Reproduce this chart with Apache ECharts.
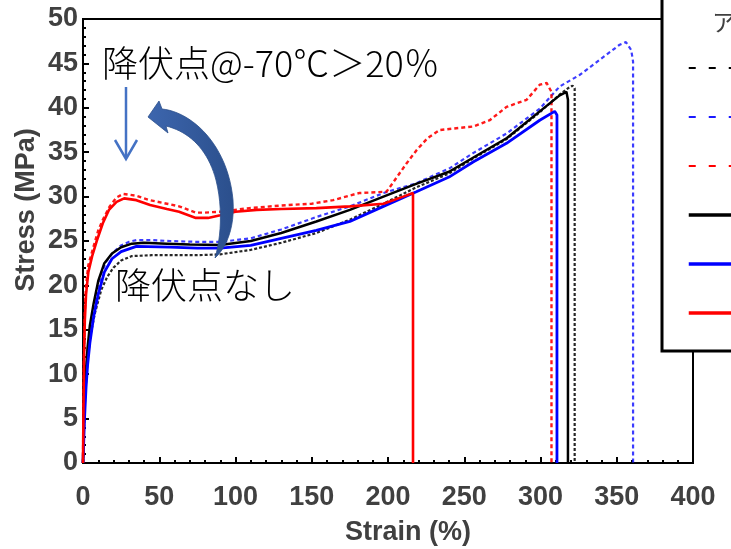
<!DOCTYPE html>
<html>
<head>
<meta charset="utf-8">
<script src="https://cdn.jsdelivr.net/npm/echarts@6/dist/echarts.min.js"></script>
<style>
html,body{margin:0;padding:0;background:#fff;}
#chart{width:731px;height:549px;}
</style>
</head>
<body>
<div id="chart"></div>
<script>
// ---- tick labels ----
const xTicks = [0, 50, 100, 150, 200, 250, 300, 350, 400];
const yTicks = [0, 5, 10, 15, 20, 25, 30, 35, 40, 45, 50];

// ---- series names (legend order) ----
const seriesNames = ['黒 破線', '青 破線', '赤 破線', '黒 実線', '青 実線', '赤 実線'];

// ---- series values: [strain %, stress MPa] ----
const blackDashed = [[0,0],[0.5,3],[1,6],[2,9],[3,11.5],[5,14.5],[8,17],[12,19.5],[16,21],[20,22],[25,22.8],[32,23.3],[45,23.4],[60,23.4],[75,23.4],[90,23.5],[110,24.0],[130,24.8],[153,25.9],[175,27.4],[197,29.2],[218,31.0],[240,32.6],[256,34.3],[278,36.5],[299.5,39.5],[312.6,41.5],[318,42.2],[321,42.5],[322.4,42.2],[322.4,0]];
const blueDashed = [[0,0],[0.5,3],[1,6],[2,10],[3,12.5],[4.5,15],[7,17.5],[9,19],[12,21.3],[15.3,22.7],[19.7,23.7],[25,24.5],[30,24.9],[35,25.1],[45,25.1],[57,25.0],[75,24.9],[90,24.9],[110,25.3],[130,26.3],[153,27.7],[175,28.9],[197,30.4],[218.6,31.5],[240.5,33.2],[255.8,34.9],[277.7,37.1],[299.5,39.9],[312.6,42.4],[325.7,43.7],[338.8,45.4],[351.9,47.1],[356,47.4],[359.5,46.5],[360.7,45.2],[360.7,0]];
const redDashed = [[0,0],[0.3,7],[0.7,13],[1.2,17],[2,20],[3.5,22.3],[6.6,24.2],[10,26.2],[13,27.4],[17.5,28.9],[22,29.9],[26.3,30.3],[35,30.1],[43.7,29.6],[55,29.2],[63,28.9],[74,28.2],[80,28.2],[90,28.3],[109,28.7],[130,29.0],[150,29.2],[164,29.6],[181,30.4],[199,30.55],[203,31.5],[212,33.7],[218.6,35.2],[226,36.6],[234,37.5],[256,37.9],[266.7,38.6],[277.7,40.1],[290.9,40.9],[299.5,42.6],[304,42.8],[307.2,41.8],[307.2,0]];
const blackSolid = [[0,0],[0.5,4],[1,7],[2,10.5],[3,13],[4.5,15.5],[7,18],[10,20.5],[14,22.5],[19,23.6],[25,24.3],[32,24.7],[40,24.8],[55,24.7],[70,24.6],[90,24.55],[110,25.0],[130,25.9],[153,27.2],[175,28.5],[197,30.0],[218,31.4],[240,32.8],[256,34.4],[278,36.6],[299.5,39.6],[312.6,41.4],[317,41.8],[318,40.9],[318,0]];
const blueSolid = [[0,0],[0.5,2.5],[1,5],[2,8.5],[3,11],[4.5,13.5],[7,16.5],[10,19],[14,21.5],[19,23],[25,23.8],[35,24.4],[57,24.3],[75,24.2],[90,24.2],[110,24.5],[130,25.3],[153,26.2],[175,27.2],[197,28.9],[218.6,30.55],[240,32.2],[255.8,33.9],[277.7,36.0],[299.5,38.6],[309.3,39.6],[310.8,39.2],[310.8,0]];
const redSolid = [[0,0],[0.3,6],[0.7,12],[1.2,16],[2,19],[3.5,21.5],[6,23.3],[9,25],[13,27],[17,28.5],[22,29.4],[27,29.8],[35,29.6],[44,29.05],[55,28.6],[63,28.3],[74,27.6],[82,27.6],[90,27.9],[100,28.3],[114,28.5],[130,28.6],[153,28.7],[175,28.9],[197,29.2],[210,30.0],[216.4,30.4],[216.4,0]];

// ---- annotation texts ----
const noteYield = '降伏点@-70℃＞20％';
const noteNoYield = '降伏点なし';
const legendTitle = 'ア';
const xName = 'Strain (%)';
const yName = 'Stress (MPa)';

const seriesData = [blackDashed, blueDashed, redDashed, blackSolid, blueSolid, redSolid];
const seriesColors = ['#000000', '#1a1aff', '#ff0000', '#000000', '#0000ff', '#ff0000'];
const seriesStyles = [
  {width: 2.2, type: [3, 2], opacity: 0.85},
  {width: 2.2, type: [4, 3], opacity: 0.85},
  {width: 2.4, type: [4, 3], opacity: 0.9},
  {width: 2.5, type: 'solid', opacity: 1},
  {width: 2.8, type: 'solid', opacity: 1},
  {width: 2.6, type: 'solid', opacity: 1}
];
const legendStyles = [
  {width: 2, type: [7, 13]},
  {width: 2, type: [7, 13]},
  {width: 2, type: [7, 13]},
  {width: 3.5, type: 'solid'},
  {width: 3.5, type: 'solid'},
  {width: 3.5, type: 'solid'}
];

// curved block arrow outline (decoration), sampled from cubic segments
function cubic(p0, p1, p2, p3, n) {
  const out = [];
  for (let k = 1; k <= n; k++) {
    const t = k / n, u = 1 - t;
    out.push([
      u*u*u*p0[0] + 3*u*u*t*p1[0] + 3*u*t*t*p2[0] + t*t*t*p3[0],
      u*u*u*p0[1] + 3*u*u*t*p1[1] + 3*u*t*t*p2[1] + t*t*t*p3[1]
    ]);
  }
  return out;
}
const arrowPts = [[148,117],[159,101],[162,109]]
  .concat(cubic([162,109],[192,112],[228,145],[233,200],24))
  .concat(cubic([233,200],[235,228],[226,248],[215,258],12))
  .concat(cubic([215,258],[221,238],[223,208],[216,180],12))
  .concat(cubic([216,180],[208,150],[190,132],[166,126],20))
  .concat([[168,133]]);

const chart = echarts.init(document.getElementById('chart'), null, {renderer: 'canvas'});
const axisFont = {fontFamily: '"Liberation Sans", Arial, sans-serif', fontWeight: 'bold', fontSize: 27, color: '#404040'};

const option = {
  animation: false,
  backgroundColor: '#ffffff',
  grid: {left: 83, right: 38, top: 19, bottom: 86, show: true, borderColor: '#000', borderWidth: 2, backgroundColor: 'transparent'},
  xAxis: {
    type: 'value',
    min: xTicks[0], max: xTicks[xTicks.length - 1], interval: xTicks[1] - xTicks[0],
    axisLine: {show: true, onZero: false, lineStyle: {color: '#000', width: 2}},
    axisTick: {show: true, inside: true, length: 6, lineStyle: {color: '#000', width: 2}},
    minorTick: {show: true, splitNumber: 5, length: 3, lineStyle: {color: '#000', width: 2}},
    splitLine: {show: false},
    axisLabel: Object.assign({margin: 21}, axisFont)
  },
  yAxis: {
    type: 'value',
    min: yTicks[0], max: yTicks[yTicks.length - 1], interval: yTicks[1] - yTicks[0],
    axisLine: {show: true, onZero: false, lineStyle: {color: '#000', width: 2}},
    axisTick: {show: true, inside: true, length: 6, lineStyle: {color: '#000', width: 2}},
    minorTick: {show: true, splitNumber: 5, length: 3, lineStyle: {color: '#000', width: 2}},
    splitLine: {show: false},
    axisLabel: Object.assign({margin: 5, padding: [7, 0, 0, 0]}, axisFont)
  },
  legend: {
    orient: 'vertical',
    left: 682, top: 56,
    itemWidth: 70, itemHeight: 14, itemGap: 36.4,
    z: 6,
    formatter: function () { return ''; },
    textStyle: {fontSize: 12},
    selectedMode: false,
    itemStyle: {opacity: 0},
    data: seriesNames.map((n, i) => ({name: n, itemStyle: {opacity: 0}, lineStyle: Object.assign({color: seriesColors[i], opacity: 1}, legendStyles[i])}))
  },
  series: seriesNames.map((n, i) => ({
    name: n,
    type: 'line',
    data: seriesData[i],
    symbol: 'none',
    smooth: false,
    z: i < 3 ? 2 : 3,
    lineStyle: Object.assign({color: seriesColors[i]}, seriesStyles[i]),
    itemStyle: {color: seriesColors[i]}
  })),
  graphic: [
    {type: 'rect', z: 5, shape: {x: 662, y: -10, width: 100, height: 361}, style: {fill: '#fff', stroke: '#000', lineWidth: 3}},
    {type: 'text', z: 6, x: 712, y: 22, style: {text: legendTitle, verticalAlign: 'middle', fontFamily: '"Noto Sans CJK JP", sans-serif', fontSize: 24, fill: '#404040'}},
    {type: 'text', z: 6, x: 408, y: 533, style: {text: xName, align: 'center', verticalAlign: 'middle', font: 'bold 27px "Liberation Sans", Arial, sans-serif', fill: '#404040'}},
    {type: 'text', z: 6, x: 27, y: 210, rotation: Math.PI / 2, style: {text: yName, align: 'center', verticalAlign: 'middle', font: 'bold 27px "Liberation Sans", Arial, sans-serif', fill: '#404040'}},
    {type: 'text', z: 10, x: 102, y: 63, style: {text: noteYield, align: 'left', verticalAlign: 'middle', fontFamily: '"Noto Sans CJK JP", sans-serif', fontWeight: 300, fontSize: 36, fill: '#000'}},
    {type: 'text', z: 10, x: 115, y: 285, style: {text: noteNoYield, align: 'left', verticalAlign: 'middle', fontFamily: '"Noto Sans CJK JP", sans-serif', fontWeight: 300, fontSize: 36, fill: '#000'}},
    {type: 'polyline', z: 10, shape: {points: [[126, 87], [126, 158]]}, style: {stroke: '#4472C4', lineWidth: 2.5, fill: null}},
    {type: 'polyline', z: 10, shape: {points: [[115, 140], [126, 159], [137, 140]]}, style: {stroke: '#4472C4', lineWidth: 2.5, fill: null}},
    {type: 'polygon', z: 10, shape: {points: arrowPts},
     style: {fill: new echarts.graphic.LinearGradient(0, 0, 1, 0, [{offset: 0, color: '#3D66AE'}, {offset: 1, color: '#2B4F8C'}]), stroke: '#2B4F8C', lineWidth: 0.8}}
  ]
};
chart.setOption(option);
</script>
</body>
</html>
